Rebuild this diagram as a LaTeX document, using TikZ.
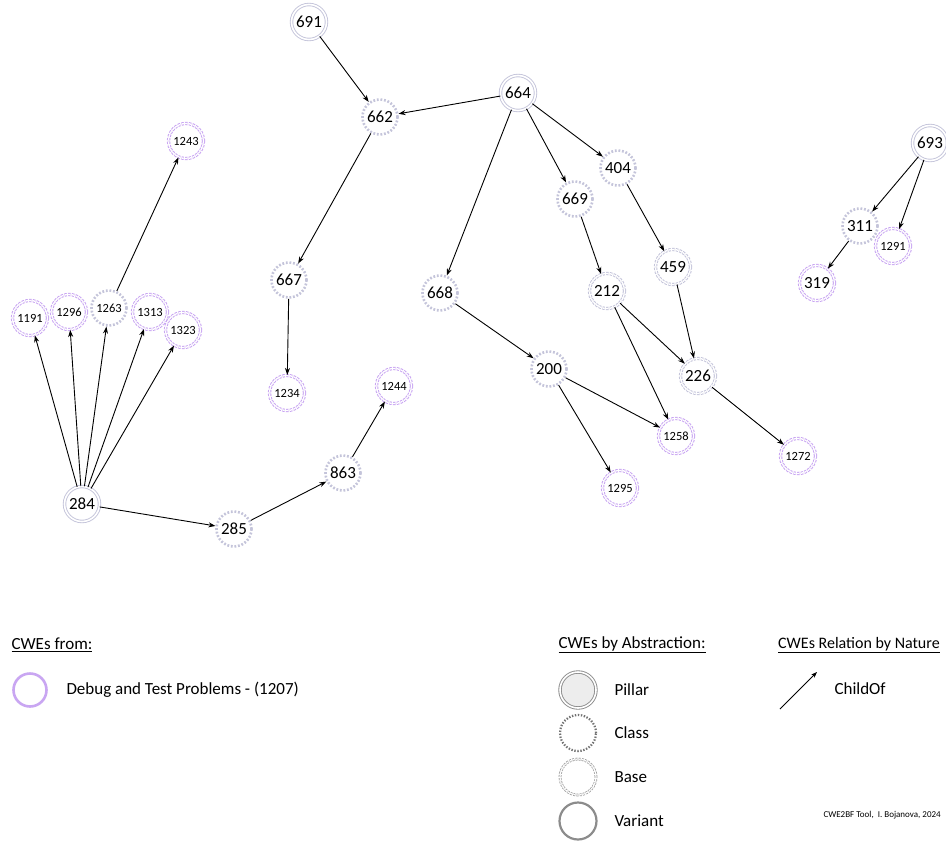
\documentclass[tikz,border=0pt]{standalone}
\usepackage{fontspec}
\setmainfont{Carlito}
\usetikzlibrary{arrows.meta}
\definecolor{lav}{HTML}{C4C4DA}
\definecolor{purp}{HTML}{C8A4F2}
\definecolor{legpurp}{HTML}{C9A6F2}
\definecolor{leggrey}{HTML}{8C8C8C}
\tikzset{
  cwe/.style={circle, inner sep=0pt, minimum size=35pt, font=\fontsize{17}{17}\selectfont},
  small/.style={font=\fontsize{12.5}{12.5}\selectfont},
  pillar/.style={cwe, draw=lav, double, line width=0.9pt, double distance=1.6pt},
  classnode/.style={cwe, draw=#1, line width=2.6pt, dash pattern=on 1.8pt off 1.8pt},
  classnode/.default=lav,
  basenode/.style={cwe, draw=#1, double, line width=1pt, double distance=1.3pt, dash pattern=on 2.4pt off 1.3pt},
  basenode/.default=lav,
  edge/.style={-{Stealth[length=7pt,width=5pt]}, line width=0.9pt, black},
  legtext/.style={anchor=west, font=\fontsize{17}{17}\selectfont},
}
\begin{document}
\begin{tikzpicture}[x=1pt, y=-1pt]
\clip (0,0) rectangle (946,841);
\fill[white] (0,0) rectangle (946,841);

% pillars
\node[pillar] (n691) at (309,22) {691};
\node[pillar] (n664) at (518,93) {664};
\node[pillar] (n284) at (82,504) {284};
\node[pillar] (n693) at (930,143) {693};

% classes
\node[classnode] (n662) at (380,117) {662};
\node[classnode] (n667) at (289,280) {667};
\node[classnode] (n668) at (440,293) {668};
\node[classnode] (n669) at (575,199) {669};
\node[classnode] (n404) at (618,168) {404};
\node[classnode] (n200) at (549,369) {200};
\node[classnode] (n311) at (860,226) {311};
\node[classnode] (n863) at (343,473) {863};
\node[classnode] (n285) at (234,529) {285};
\node[classnode, small] (n1263) at (109,308) {1263};

% bases
\node[basenode] (n212) at (607,291) {212};
\node[basenode] (n459) at (673,267) {459};
\node[basenode] (n226) at (698,376) {226};

% debug and test problems (1207)
\node[basenode=purp, small] (n1243) at (186,141) {1243};
\node[basenode=purp, small] (n1191) at (30,318) {1191};
\node[basenode=purp, small] (n1296) at (69,312) {1296};
\node[basenode=purp, small] (n1313) at (150,312) {1313};
\node[basenode=purp, small] (n1323) at (183,330) {1323};
\node[basenode=purp, small] (n1234) at (287,393) {1234};
\node[basenode=purp, small] (n1244) at (394,386) {1244};
\node[basenode=purp, small] (n1258) at (676,436) {1258};
\node[basenode=purp, small] (n1295) at (620,488) {1295};
\node[basenode=purp, small] (n1272) at (798,456) {1272};
\node[basenode=purp, small] (n1291) at (893,246) {1291};
\node[basenode=purp] (n319) at (817,283) {319};

% ChildOf relations
\draw[edge] (n691) -- (n662);
\draw[edge] (n664) -- (n662);
\draw[edge] (n664) -- (n668);
\draw[edge] (n664) -- (n669);
\draw[edge] (n664) -- (n404);
\draw[edge] (n662) -- (n667);
\draw[edge] (n667) -- (n1234);
\draw[edge] (n669) -- (n212);
\draw[edge] (n404) -- (n459);
\draw[edge] (n459) -- (n226);
\draw[edge] (n212) -- (n226);
\draw[edge] (n212) -- (n1258);
\draw[edge] (n668) -- (n200);
\draw[edge] (n200) -- (n1258);
\draw[edge] (n200) -- (n1295);
\draw[edge] (n226) -- (n1272);
\draw[edge] (n693) -- (n311);
\draw[edge] (n693) -- (n1291);
\draw[edge] (n311) -- (n319);
\draw[edge] (n1263) -- (n1243);
\draw[edge] (n284) -- (n1191);
\draw[edge] (n284) -- (n1296);
\draw[edge] (n284) -- (n1263);
\draw[edge] (n284) -- (n1313);
\draw[edge] (n284) -- (n1323);
\draw[edge] (n284) -- (n285);
\draw[edge] (n285) -- (n863);
\draw[edge] (n863) -- (n1244);

% legend: source category
\node[legtext] (hfrom) at (8,645) {\underline{CWEs from:}};
\node[circle, draw=legpurp, line width=2.6pt, minimum size=33pt, inner sep=0pt] (lcat) at (30,690) {};
\node[legtext] (tcat) at (63,690) {Debug and Test Problems - (1207)};

% legend: abstraction
\node[legtext] (habs) at (555,645) {\underline{CWEs by Abstraction:}};
\node[circle, draw=leggrey, double, fill=black!7, line width=0.9pt, double distance=1.6pt, minimum size=36pt, inner sep=0pt] (lpil) at (578,690) {};
\node[circle, draw=black!55, line width=2.2pt, dash pattern=on 1.4pt off 1.6pt, minimum size=36pt, inner sep=0pt] (lcls) at (578,733) {};
\node[circle, draw=black!38, double, line width=0.8pt, double distance=1.2pt, dash pattern=on 2pt off 1.2pt, minimum size=36pt, inner sep=0pt] (lbas) at (578,777) {};
\node[circle, draw=leggrey, line width=2.2pt, minimum size=37pt, inner sep=0pt] (lvar) at (578,821) {};
\node[legtext] (tpil) at (611,690) {Pillar};
\node[legtext] (tcls) at (611,733) {Class};
\node[legtext] (tbas) at (611,777) {Base};
\node[legtext] (tvar) at (611,821) {Variant};

% legend: relation
\node[anchor=west, inner sep=1pt, font=\fontsize{16}{16}\selectfont] (hrel) at (777,645) {\underline{CWEs Relation by Nature}};
\coordinate (rs) at (780,709);
\coordinate (re) at (817,672);
\draw[-{Stealth[length=6pt,width=4.5pt]}, line width=0.9pt] (rs) -- (re);
\node[legtext] (trel) at (831,689) {ChildOf};

\node[anchor=west, font=\fontsize{9}{9}\selectfont] (credit) at (820,815) {CWE2BF Tool,\ \ I. Bojanova, 2024};
\end{tikzpicture}
\end{document}
